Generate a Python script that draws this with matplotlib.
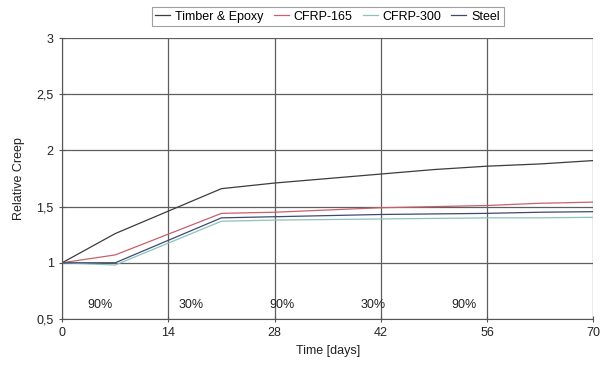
import matplotlib
matplotlib.use("Agg")
import matplotlib.pyplot as plt
from matplotlib.ticker import FuncFormatter

# time in days
days = [0, 7, 21, 28, 35, 42, 49, 56, 63, 70]

timber_epoxy = [1.00, 1.26, 1.66, 1.71, 1.75, 1.79, 1.83, 1.86, 1.88, 1.91]
cfrp_165 = [1.00, 1.07, 1.44, 1.45, 1.47, 1.49, 1.50, 1.51, 1.53, 1.54]
cfrp_300 = [1.00, 0.98, 1.37, 1.38, 1.385, 1.39, 1.395, 1.40, 1.40, 1.405]
steel = [1.00, 1.00, 1.40, 1.41, 1.42, 1.43, 1.435, 1.44, 1.45, 1.455]

load_labels = ["90%", "30%", "90%", "30%", "90%"]
load_label_days = [5, 17, 29, 41, 53]

plt.rcParams['font.family'] = ['Liberation Sans', 'DejaVu Sans']

fig = plt.figure(figsize=(6.09, 3.67), dpi=100)
ax = fig.add_axes([0.102, 0.131, 0.872, 0.765])

ax.plot(days, timber_epoxy, color="#3c3c3c", lw=0.9, label="Timber & Epoxy")
ax.plot(days, cfrp_165, color="#c8606e", lw=0.9, label="CFRP-165")
ax.plot(days, cfrp_300, color="#8cc4b8", lw=0.9, label="CFRP-300")
ax.plot(days, steel, color="#3e4a72", lw=0.9, label="Steel")

for d, txt in zip(load_label_days, load_labels):
    ax.text(d, 0.62, txt, ha="center", va="center", fontsize=9, color="#222222")

ax.set_xlim(0, 70)
ax.set_ylim(0.5, 3)
ax.set_xticks([0, 14, 28, 42, 56, 70])
ax.set_yticks([0.5, 1, 1.5, 2, 2.5, 3])
ax.yaxis.set_major_formatter(FuncFormatter(lambda v, p: f"{v:g}".replace(".", ",")))
ax.grid(True, color="#5e5e5e", lw=0.9)
ax.set_axisbelow(True)
for s in ["top", "right"]:
    ax.spines[s].set_visible(False)
for s in ["left", "bottom"]:
    ax.spines[s].set_color("#555555")
ax.tick_params(direction="inout", length=5, width=0.8, color="#555555", labelsize=9, labelcolor="#222222")

ax.set_xlabel("Time [days]", fontsize=9, color="#222222", labelpad=4)
ax.set_ylabel("Relative Creep", fontsize=9, color="#222222", labelpad=8)

leg = ax.legend(loc="lower center", bbox_to_anchor=(0.5, 1.02), ncol=4, fontsize=9,
                frameon=True, fancybox=False, edgecolor="#888888", handlelength=1.2,
                handletextpad=0.4, columnspacing=0.8, borderpad=0.3)
leg.get_frame().set_linewidth(0.8)

fig.savefig("out.png", dpi=100)
